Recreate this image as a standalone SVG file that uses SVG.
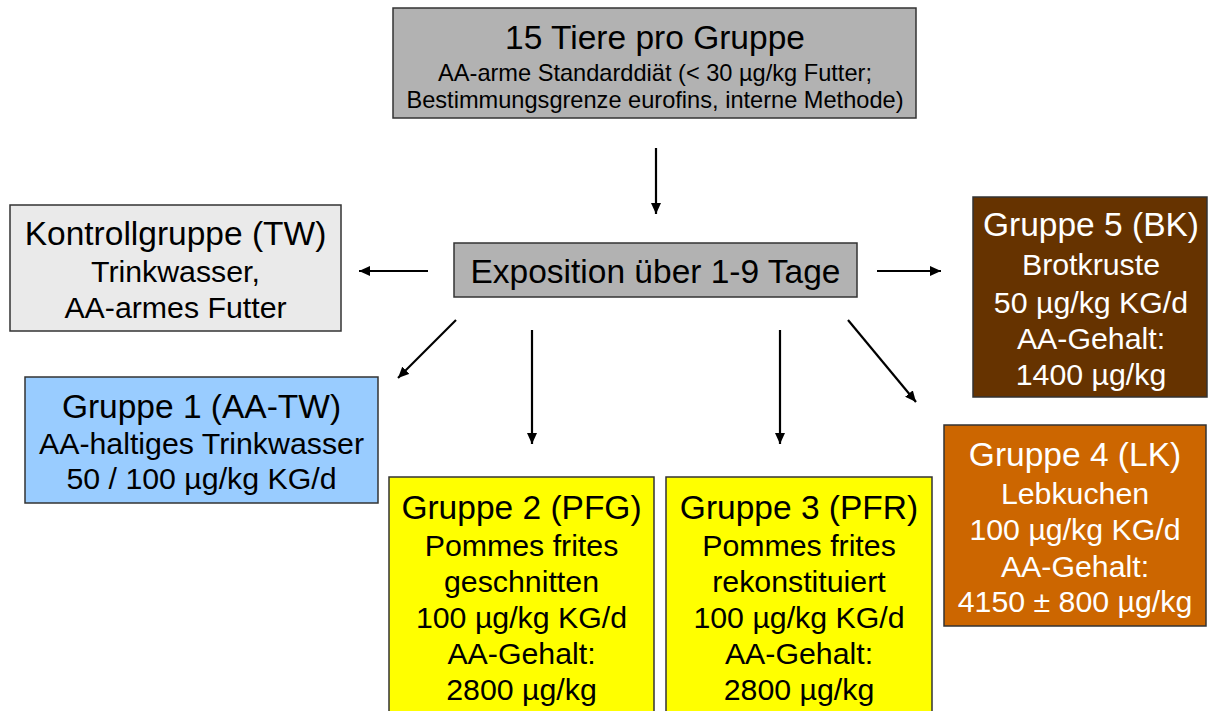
<svg xmlns="http://www.w3.org/2000/svg" width="1210" height="711" viewBox="0 0 1210 711">
<style>
.box{stroke:#333;stroke-width:1.5}
text{font-family:"Liberation Sans",Arial,sans-serif;text-anchor:middle;fill:#000}
.t{font-size:33.5px}
.s{font-size:30.3px}
.ts{font-size:23.6px}
.w{fill:#fff}
.conn line{stroke:#000;stroke-width:2.2;marker-end:url(#ah)}
</style>
<defs>
<marker id="ah" markerUnits="userSpaceOnUse" markerWidth="12" markerHeight="10" refX="11" refY="5" orient="auto">
<path d="M0,0 L11,5 L0,10 z" fill="#000"/>
</marker>
</defs>
<rect width="1210" height="711" fill="#fff"/>
<g id="top">
<rect class="box" x="393" y="8" width="523" height="110" fill="#b2b2b2"/>
<text class="t" x="655" y="49">15 Tiere pro Gruppe</text>
<text class="ts" x="655" y="81">AA-arme Standarddiät (&lt; 30 µg/kg Futter;</text>
<text class="ts" x="655" y="108">Bestimmungsgrenze eurofins, interne Methode)</text>
</g>
<g id="exposition">
<rect class="box" x="454" y="243" width="403" height="54" fill="#b2b2b2"/>
<text class="t" x="655.5" y="283">Exposition über 1-9 Tage</text>
</g>
<g id="kontroll">
<rect class="box" x="10" y="205" width="331" height="126" fill="#eaeaea"/>
<text class="t" x="175.5" y="245">Kontrollgruppe (TW)</text>
<text class="s" x="175.5" y="282">Trinkwasser,</text>
<text class="s" x="175.5" y="318">AA-armes Futter</text>
</g>
<g id="gruppe1">
<rect class="box" x="25" y="377" width="353" height="126" fill="#99ccff"/>
<text class="t" x="201.5" y="418">Gruppe 1 (AA-TW)</text>
<text class="s" x="201.5" y="454">AA-haltiges Trinkwasser</text>
<text class="s" x="201.5" y="489">50 / 100 µg/kg KG/d</text>
</g>
<g id="gruppe2">
<rect class="box" x="389" y="477" width="265" height="250" fill="#ffff00"/>
<text class="t" x="521.5" y="519">Gruppe 2 (PFG)</text>
<text class="s" x="521.5" y="556">Pommes frites</text>
<text class="s" x="521.5" y="592">geschnitten</text>
<text class="s" x="521.5" y="628">100 µg/kg KG/d</text>
<text class="s" x="521.5" y="664">AA-Gehalt:</text>
<text class="s" x="521.5" y="700">2800 µg/kg</text>
</g>
<g id="gruppe3">
<rect class="box" x="666" y="477" width="266" height="250" fill="#ffff00"/>
<text class="t" x="799" y="519">Gruppe 3 (PFR)</text>
<text class="s" x="799" y="556">Pommes frites</text>
<text class="s" x="799" y="592">rekonstituiert</text>
<text class="s" x="799" y="628">100 µg/kg KG/d</text>
<text class="s" x="799" y="664">AA-Gehalt:</text>
<text class="s" x="799" y="700">2800 µg/kg</text>
</g>
<g id="gruppe4">
<rect class="box" x="944" y="425" width="262" height="201" fill="#cc6600"/>
<text class="t w" x="1075" y="466">Gruppe 4 (LK)</text>
<text class="s w" x="1075" y="504">Lebkuchen</text>
<text class="s w" x="1075" y="540">100 µg/kg KG/d</text>
<text class="s w" x="1075" y="577">AA-Gehalt:</text>
<text class="s w" x="1075" y="612">4150 ± 800 µg/kg</text>
</g>
<g id="gruppe5">
<rect class="box" x="973" y="197" width="234" height="200" fill="#663300"/>
<text class="t w" x="1091" y="236">Gruppe 5 (BK)</text>
<text class="s w" x="1091" y="275">Brotkruste</text>
<text class="s w" x="1091" y="313">50 µg/kg KG/d</text>
<text class="s w" x="1091" y="349">AA-Gehalt:</text>
<text class="s w" x="1091" y="385">1400 µg/kg</text>
</g>
<g id="connectors" class="conn">
<line x1="656" y1="148" x2="656" y2="214"/>
<line x1="428" y1="271" x2="359" y2="271"/>
<line x1="877" y1="271" x2="941" y2="271"/>
<line x1="456" y1="320" x2="398" y2="378"/>
<line x1="532" y1="330" x2="532" y2="444"/>
<line x1="780" y1="330" x2="780" y2="444"/>
<line x1="848" y1="320" x2="916" y2="402"/>
</g>
</svg>
